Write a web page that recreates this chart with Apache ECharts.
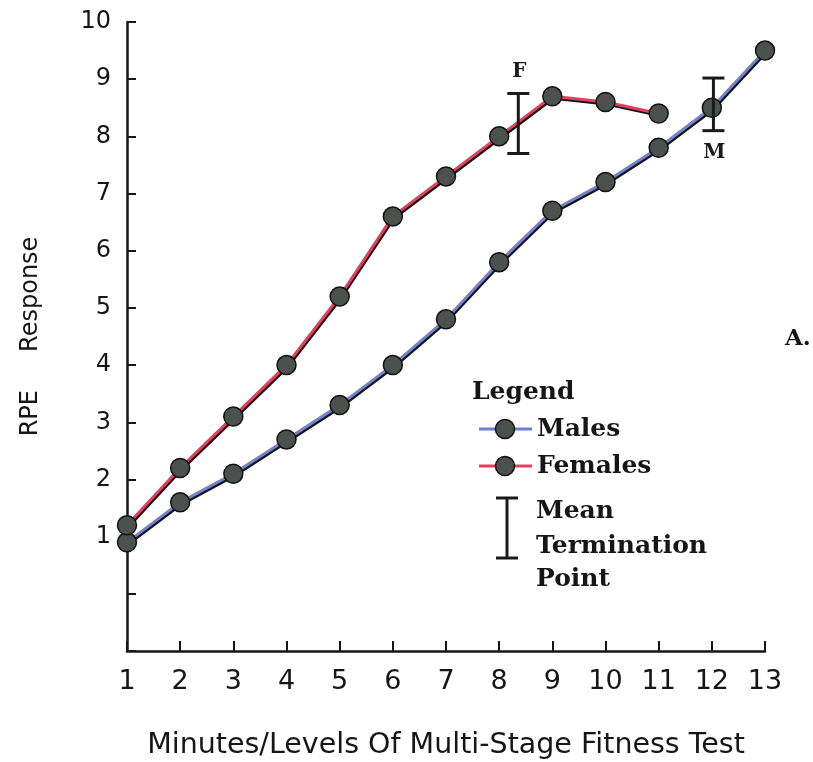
<!DOCTYPE html>
<html>
<head>
<meta charset="utf-8">
<script src="https://cdn.jsdelivr.net/npm/echarts@6/dist/echarts.min.js"></script>
<style>
  html, body { margin: 0; padding: 0; background: #ffffff; }
  #chart { width: 813px; height: 762px; }
</style>
</head>
<body>
<div id="chart"></div>
<script>
// Minutes / levels of the multi-stage fitness test
const levels = [1, 2, 3, 4, 5, 6, 7, 8, 9, 10, 11, 12, 13];

// Mean RPE response per level
const malesRPE   = [0.9, 1.6, 2.1, 2.7, 3.3, 4.0, 4.8, 5.8, 6.7, 7.2, 7.8, 8.5, 9.5];
const femalesRPE = [1.2, 2.2, 3.1, 4.0, 5.2, 6.6, 7.3, 8.0, 8.7, 8.6, 8.4];

// Mean termination point (level) with its RPE range
const termGroups = ['F', 'M'];
const termLevel  = [8.36, 12.03];
const termLow    = [7.7, 8.1];
const termHigh   = [8.75, 9.02];

const axisFont = 'DejaVu Sans, sans-serif';
const slabFont = 'DejaVu Serif, serif';
const ink = '#161616';
const markerFill = '#4b524d';

function pairs(xs, ys) {
  return ys.map((y, i) => [xs[i], y]);
}

function lineSeries(name, values, colour) {
  return {
    name: name,
    type: 'line',
    data: pairs(levels, values),
    symbol: 'circle',
    symbolSize: 19,
    itemStyle: { color: markerFill, borderColor: '#111', borderWidth: 1.5 },
    lineStyle: {
      color: colour,
      width: 3,
      shadowColor: '#151515',
      shadowBlur: 0,
      shadowOffsetX: 1,
      shadowOffsetY: 2
    },
    emphasis: { disabled: true },
    animation: false,
    z: 3
  };
}

function legendText(text, x, y, size) {
  return {
    type: 'text', x: x, y: y,
    style: {
      text: text, fontFamily: slabFont, fontWeight: 'bold', fontSize: size,
      fill: ink, align: 'left', verticalAlign: 'middle'
    }
  };
}

const chart = echarts.init(document.getElementById('chart'), null, { renderer: 'canvas' });

chart.setOption({
  backgroundColor: '#ffffff',
  animation: false,
  grid: { left: 127, right: 48, top: 22, bottom: 111, containLabel: false, outerBoundsMode: 'none' },
  xAxis: {
    type: 'value',
    min: 1,
    max: 13,
    interval: 1,
    name: 'Minutes/Levels Of Multi-Stage Fitness Test',
    nameLocation: 'middle',
    nameGap: 80,
    nameTextStyle: { fontFamily: axisFont, fontSize: 28.5, color: ink },
    axisLine: { onZero: false, lineStyle: { color: ink, width: 2.5 } },
    axisTick: { inside: true, length: 10, lineStyle: { color: ink, width: 2 } },
    axisLabel: { fontFamily: axisFont, fontSize: 27, color: ink, margin: 17 },
    splitLine: { show: false }
  },
  yAxis: {
    type: 'value',
    min: -1,
    max: 10,
    interval: 1,
    name: 'RPE     Response',
    nameLocation: 'middle',
    nameGap: 84,
    nameRotate: 90,
    nameTextStyle: { fontFamily: axisFont, fontSize: 24, color: ink },
    axisLine: { onZero: false, lineStyle: { color: ink, width: 2.5 } },
    axisTick: { inside: true, length: 9, lineStyle: { color: ink, width: 2 } },
    axisLabel: {
      fontFamily: axisFont, fontSize: 24, color: ink, margin: 16,
      formatter: v => (v >= 1 ? String(v) : '')
    },
    splitLine: { show: false }
  },
  series: [
    lineSeries('Males', malesRPE, '#7482cc'),
    lineSeries('Females', femalesRPE, '#e2405e'),
    {
      name: 'Mean Termination Point',
      type: 'custom',
      data: termGroups.map((g, i) => [termLevel[i], termLow[i], termHigh[i]]),
      renderItem: function (params, api) {
        const x = api.value(0);
        const lo = api.coord([x, api.value(1)]);
        const hi = api.coord([x, api.value(2)]);
        const half = 11;
        const style = { stroke: '#1a1a1a', lineWidth: 3 };
        const group = termGroups[params.dataIndex];
        const labelAbove = group === 'F';
        return {
          type: 'group',
          children: [
            { type: 'line', shape: { x1: hi[0], y1: hi[1], x2: lo[0], y2: lo[1] }, style: style },
            { type: 'line', shape: { x1: hi[0] - half, y1: hi[1], x2: hi[0] + half, y2: hi[1] }, style: style },
            { type: 'line', shape: { x1: lo[0] - half, y1: lo[1], x2: lo[0] + half, y2: lo[1] }, style: style },
            {
              type: 'text',
              x: hi[0] + 1,
              y: labelAbove ? hi[1] - 22 : lo[1] + 22,
              style: {
                text: group,
                fontFamily: slabFont,
                fontWeight: 'bold',
                fontSize: 20,
                fill: '#1a1a1a',
                align: 'center',
                verticalAlign: 'middle'
              }
            }
          ]
        };
      },
      z: 4
    }
  ],
  graphic: [
    // Panel tag
    legendText('A.', 785, 339, 23),
    // Legend block
    legendText('Legend', 472, 392, 25),
    { type: 'line', shape: { x1: 479, y1: 429, x2: 532, y2: 429 }, style: { stroke: '#6f7ed0', lineWidth: 3 } },
    { type: 'circle', shape: { cx: 505, cy: 429, r: 9.5 }, style: { fill: markerFill, stroke: '#111', lineWidth: 1.5 } },
    legendText('Males', 537, 429, 25),
    { type: 'line', shape: { x1: 479, y1: 466, x2: 532, y2: 466 }, style: { stroke: '#e2405e', lineWidth: 3 } },
    { type: 'circle', shape: { cx: 505, cy: 466, r: 9.5 }, style: { fill: markerFill, stroke: '#111', lineWidth: 1.5 } },
    legendText('Females', 537, 466, 25),
    { type: 'line', shape: { x1: 507, y1: 498, x2: 507, y2: 558 }, style: { stroke: '#1a1a1a', lineWidth: 3 } },
    { type: 'line', shape: { x1: 496, y1: 498, x2: 518, y2: 498 }, style: { stroke: '#1a1a1a', lineWidth: 3 } },
    { type: 'line', shape: { x1: 496, y1: 558, x2: 518, y2: 558 }, style: { stroke: '#1a1a1a', lineWidth: 3 } },
    legendText('Mean', 536, 511, 25),
    legendText('Termination', 536, 546, 25),
    legendText('Point', 536, 579, 25)
  ]
});
</script>
</body>
</html>
